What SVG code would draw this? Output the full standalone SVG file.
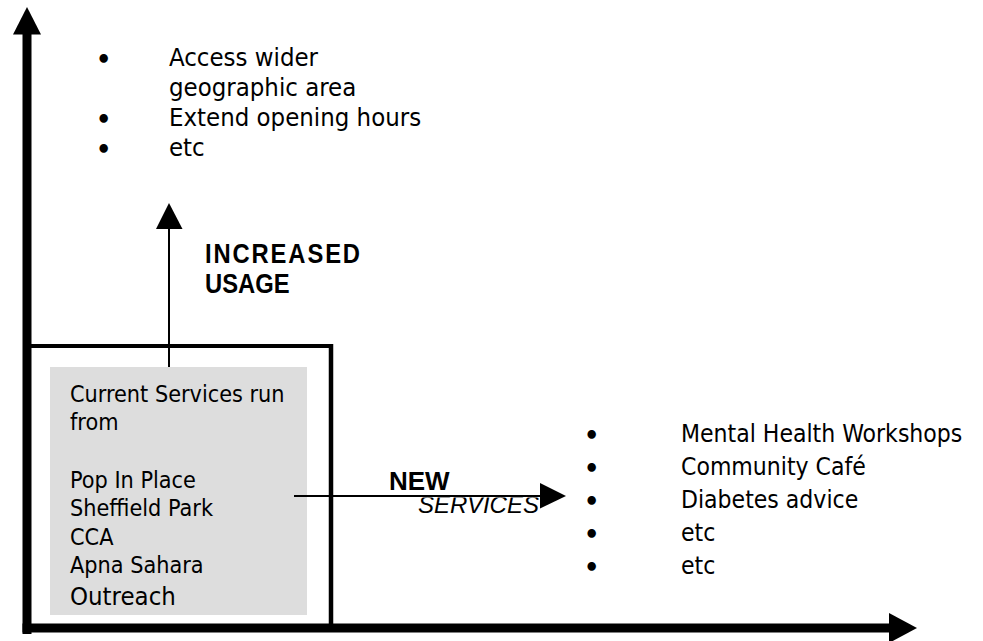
<svg xmlns="http://www.w3.org/2000/svg" width="983" height="641" viewBox="0 0 983 641">
  <style>
    .body { font-family: "DejaVu Sans Condensed", "DejaVu Sans", sans-serif; font-stretch: condensed; fill: #000; }
    .dot { font-family: "DejaVu Sans", sans-serif; font-weight: bold; fill: #000; }
    .bold { font-family: "Liberation Sans", Arial, sans-serif; font-weight: bold; fill: #000; }
    .ital { font-family: "Liberation Sans", Arial, sans-serif; font-style: italic; fill: #000; }
    .thin { stroke: #000; stroke-width: 2; fill: none; }
    .head { fill: #000; stroke: none; }
  </style>
  <defs>
    <clipPath id="servicesClip">
      <rect x="410" y="497.5" width="140" height="30"/>
    </clipPath>
  </defs>
  <rect width="983" height="641" fill="#fff"/>

  <!-- Axes -->
  <g id="axes">
    <rect x="22.5" y="33" width="9" height="601" fill="#000"/>
    <polygon class="head" points="27,7 13,34.5 41,34.5"/>
    <rect x="22.5" y="623.5" width="867" height="9" fill="#000"/>
    <polygon class="head" points="917,628 889,613 889,643"/>
  </g>

  <!-- Current services frame -->
  <g id="frame">
    <line x1="27" y1="346" x2="333" y2="346" stroke="#000" stroke-width="4"/>
    <line x1="331" y1="344" x2="331" y2="628" stroke="#000" stroke-width="4.5"/>
  </g>

  <!-- Grey box with current services -->
  <g id="current-services">
    <rect x="50" y="367" width="257" height="248" fill="#dddddd"/>
    <text class="body" font-size="23.2" x="70" y="402">Current Services run</text>
    <text class="body" font-size="23.2" x="70" y="430">from</text>
    <text class="body" font-size="23.2" x="70" y="488">Pop In Place</text>
    <text class="body" font-size="23.2" x="70" y="516">Sheffield Park</text>
    <text class="body" font-size="23.2" x="70" y="544.5">CCA</text>
    <text class="body" font-size="23.2" x="70" y="573">Apna Sahara</text>
    <text class="body" font-size="25.5" x="70" y="605">Outreach</text>
  </g>

  <!-- Connectors -->
  <g id="connectors">
    <line class="thin" x1="169" y1="367" x2="169" y2="228"/>
    <polygon class="head" points="169,203 156,229 182.5,229"/>
    <line class="thin" x1="294" y1="496" x2="542" y2="496"/>
    <polygon class="head" points="566,496 540,483 540,508.5"/>
  </g>

  <!-- Increased usage label -->
  <g id="increased-usage">
    <g transform="translate(205,263) scale(0.85,1)">
      <text class="bold" font-size="28" x="0" y="0" letter-spacing="2.2">INCREASED</text>
    </g>
    <g transform="translate(205,293) scale(0.85,1)">
      <text class="bold" font-size="28" x="0" y="0">USAGE</text>
    </g>
  </g>

  <!-- New services label -->
  <g id="new-services">
    <text class="bold" font-size="26" x="389" y="490">NEW</text>
    <text class="ital" font-size="24" x="418" y="512.5" clip-path="url(#servicesClip)">SERVICES</text>
  </g>

  <!-- Usage ideas list -->
  <g id="usage-list">
    <text class="dot" font-size="24" x="96" y="68">•</text>
    <text class="body" font-size="25.5" x="169" y="66">Access wider</text>
    <text class="body" font-size="25.5" x="169" y="96">geographic area</text>
    <text class="dot" font-size="24" x="96" y="128">•</text>
    <text class="body" font-size="25.5" x="169" y="126">Extend opening hours</text>
    <text class="dot" font-size="24" x="96" y="158">•</text>
    <text class="body" font-size="25.5" x="169" y="156">etc</text>
  </g>

  <!-- New services list -->
  <g id="services-list">
    <text class="dot" font-size="24" x="584" y="444">•</text>
    <text class="body" font-size="24.5" x="681" y="442">Mental Health Workshops</text>
    <text class="dot" font-size="24" x="584" y="477">•</text>
    <text class="body" font-size="24.5" x="681" y="475">Community Café</text>
    <text class="dot" font-size="24" x="584" y="510">•</text>
    <text class="body" font-size="24.5" x="681" y="508">Diabetes advice</text>
    <text class="dot" font-size="24" x="584" y="543">•</text>
    <text class="body" font-size="24.5" x="681" y="541">etc</text>
    <text class="dot" font-size="24" x="584" y="576">•</text>
    <text class="body" font-size="24.5" x="681" y="574">etc</text>
  </g>
</svg>
